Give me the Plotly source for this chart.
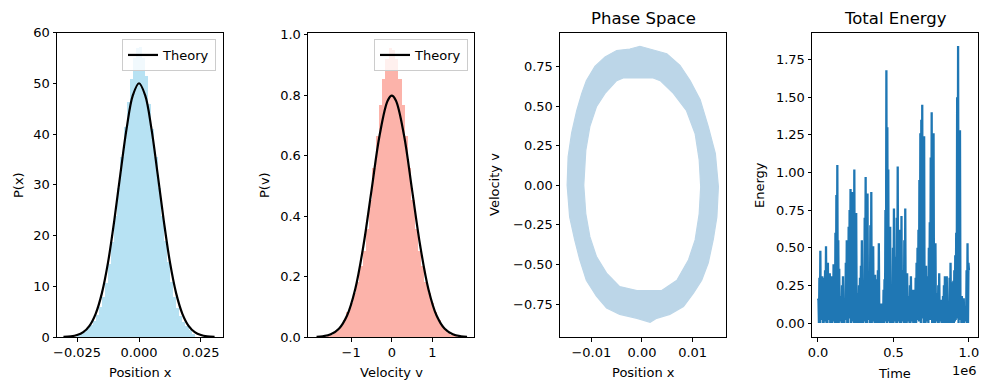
import numpy as np
import plotly.graph_objects as go

# ---------------- data ----------------
# Panel 1: position histogram (bin centres / densities) + theory curve
pos_bin_width = 0.00125
pos_centers = [-0.024375 + 0.00125 * k for k in range(38)]
pos_density = [0.4, 0.6, 1.0, 1.6, 2.4, 3.2, 4.4, 6.0, 8.0, 10.8,
               14.5, 18.8, 24.0, 29.5, 35.5, 41.5, 46.5, 51.0, 55.0, 57.0,
               57.2, 55.0, 51.5, 46.0, 41.0, 35.5, 29.5, 24.0, 19.0, 14.8,
               11.0, 8.0, 5.8, 4.2, 3.0, 2.2, 1.5, 0.7]
pos_theory_x = [-0.0305, -0.0275, -0.025, -0.0225, -0.02, -0.0175, -0.015, -0.0125, -0.01,
                -0.0075, -0.005, -0.0025, 0.0, 0.0025, 0.005, 0.0075, 0.01, 0.0125,
                0.015, 0.0175, 0.02, 0.0225, 0.025, 0.0275, 0.0305]
pos_theory_y = [0.035, 0.136, 0.38, 0.96, 2.20, 4.57, 8.6, 14.7, 22.9,
                32.2, 41.1, 47.6, 50.0, 47.6, 41.1, 32.2, 22.9, 14.7,
                8.6, 4.57, 2.20, 0.96, 0.38, 0.136, 0.035]

# Panel 2: velocity histogram + theory curve
vel_bin_width = 0.08
vel_centers = [-1.64 + 0.08 * k for k in range(42)]
vel_density = [0.002, 0.005, 0.009, 0.015, 0.024, 0.038, 0.058, 0.085, 0.115, 0.148,
               0.185, 0.235, 0.285, 0.36, 0.455, 0.56, 0.665, 0.77, 0.855, 0.92,
               0.958, 0.952, 0.922, 0.855, 0.77, 0.665, 0.56, 0.455, 0.36, 0.285,
               0.235, 0.185, 0.148, 0.115, 0.085, 0.058, 0.038, 0.024, 0.015, 0.009,
               0.005, 0.002]
vel_theory_x = [-1.85, -1.7, -1.5, -1.3, -1.1, -0.9, -0.7, -0.5, -0.3, -0.1, 0.0,
                0.1, 0.3, 0.5, 0.7, 0.9, 1.1, 1.3, 1.5, 1.7, 1.85]
vel_theory_y = [0.0008, 0.0025, 0.0089, 0.0272, 0.071, 0.158, 0.300, 0.484, 0.667, 0.782, 0.798,
                0.782, 0.667, 0.484, 0.300, 0.158, 0.071, 0.0272, 0.0089, 0.0025, 0.0008]

# Panel 3: phase-space band (outer and inner envelope of the trajectory)
outer_x = [-0.01479, -0.0146, -0.0139, -0.0129, -0.0119, -0.0110, -0.0093, -0.0073, -0.0050,
           -0.0024, -0.0004, 0.0022, 0.0049, 0.0075, 0.0095, 0.0115, 0.0131, 0.0145, 0.0151,
           0.0148, 0.0141, 0.0131, 0.0118, 0.0102, 0.0082, 0.0055, 0.0029, 0.0016, -0.0010,
           -0.0044, -0.0070, -0.0090, -0.0110, -0.0123, -0.0133, -0.0143]
outer_v = [0.0, 0.18, 0.33, 0.47, 0.58, 0.66, 0.75, 0.81, 0.85,
           0.86, 0.877, 0.855, 0.83, 0.757, 0.66, 0.54, 0.37, 0.20, -0.01,
           -0.20, -0.34, -0.49, -0.60, -0.68, -0.765, -0.815, -0.84, -0.865, -0.84,
           -0.815, -0.775, -0.70, -0.60, -0.47, -0.345, -0.20]
inner_x = [-0.0115, -0.0111, -0.0103, -0.0090, -0.0073, -0.0050, -0.0037, 0.0022, 0.0036,
           0.0062, 0.0088, 0.0105, 0.0113, 0.0116, 0.0113, 0.0105, 0.0092, 0.0069, 0.0039,
           -0.0010, -0.0044, -0.0070, -0.0090, -0.0103, -0.0111]
inner_v = [0.0, 0.22, 0.37, 0.495, 0.58, 0.66, 0.677, 0.677, 0.66,
           0.58, 0.47, 0.325, 0.16, -0.01, -0.18, -0.345, -0.47, -0.60, -0.665,
           -0.665, -0.64, -0.555, -0.45, -0.325, -0.18]

# Panel 4: total energy time series (troughs / main peaks / secondary peaks)
energy_peaks = [0.16, 0.48, 0.31, 0.30, 0.51, 0.40, 0.33, 0.31, 0.39, 0.60,
                1.05, 0.36, 0.18, 0.31, 0.11, 0.55, 0.64, 0.89, 0.87, 1.02,
                0.73, 0.20, 0.30, 0.55, 0.22, 0.97, 0.86, 0.33, 0.87, 0.51,
                0.32, 0.29, 0.53, 0.13, 0.13, 0.29, 1.68, 1.02, 0.64, 0.20,
                0.76, 0.44, 1.04, 0.62, 0.71, 0.35, 0.76, 0.33, 0.18, 0.31,
                0.22, 0.22, 0.40, 0.62, 1.26, 1.45, 1.24, 0.38, 0.31, 0.67,
                1.40, 1.26, 0.53, 0.20, 0.33, 0.155, 0.18, 0.31, 0.31, 0.13,
                0.40, 0.27, 0.35, 0.60, 1.84, 1.28, 0.18, 0.165, 0.11, 0.53]
energy_peaks_b = [0.30, 0.25, 0.22, 0.35, 0.28, 0.30, 0.20, 0.28, 0.33, 0.85,
                  0.55, 0.15, 0.25, 0.09, 0.40, 0.50, 0.75, 0.60, 0.80, 0.55,
                  0.15, 0.25, 0.38, 0.18, 0.70, 0.60, 0.25, 0.65, 0.40, 0.25,
                  0.20, 0.35, 0.10, 0.10, 0.22, 0.75, 1.30, 0.55, 0.18, 0.50,
                  0.35, 0.70, 0.50, 0.45, 0.30, 0.55, 0.25, 0.15, 0.25, 0.18,
                  0.18, 0.30, 0.50, 0.95, 1.35, 1.10, 0.30, 0.25, 0.50, 1.10,
                  1.00, 0.40, 0.18, 0.25, 0.14, 0.15, 0.25, 0.22, 0.12, 0.30,
                  0.22, 0.28, 0.45, 1.50, 0.90, 0.15, 0.14, 0.10, 0.35, 0.40]
energy_troughs = [0.15, 0.0, 0.02, 0.0, 0.01, 0.0, 0.03, 0.0, 0.01, 0.0,
                  0.02, 0.0, 0.01, 0.0, 0.0, 0.02, 0.0, 0.05, 0.01, 0.0,
                  0.02, 0.0, 0.0, 0.03, 0.0, 0.01, 0.0, 0.04, 0.0, 0.02,
                  0.0, 0.01, 0.0, 0.0, 0.02, 0.0, 0.06, 0.01, 0.0, 0.02,
                  0.0, 0.03, 0.0, 0.01, 0.0, 0.02, 0.0, 0.0, 0.01, 0.0,
                  0.02, 0.0, 0.0, 0.04, 0.02, 0.05, 0.0, 0.0, 0.01, 0.03,
                  0.05, 0.0, 0.0, 0.02, 0.0, 0.01, 0.0, 0.0, 0.02, 0.0,
                  0.0, 0.01, 0.0, 0.02, 0.05, 0.08, 0.0, 0.0, 0.01, 0.0, 0.35]
energy_troughs_b = [0.0, 0.02, 0.0, 0.01, 0.0, 0.02, 0.0, 0.0, 0.01, 0.0,
                    0.0, 0.01, 0.0, 0.0, 0.02, 0.0, 0.03, 0.0, 0.01, 0.0,
                    0.0, 0.02, 0.0, 0.0, 0.01, 0.0, 0.02, 0.0, 0.0, 0.01,
                    0.0, 0.0, 0.02, 0.0, 0.0, 0.01, 0.0, 0.02, 0.0, 0.0,
                    0.01, 0.0, 0.02, 0.0, 0.01, 0.0, 0.0, 0.02, 0.0, 0.01,
                    0.0, 0.0, 0.02, 0.01, 0.0, 0.03, 0.0, 0.01, 0.0, 0.02,
                    0.0, 0.0, 0.01, 0.0, 0.02, 0.0, 0.01, 0.0, 0.0, 0.02,
                    0.0, 0.0, 0.01, 0.03, 0.0, 0.02, 0.0, 0.0, 0.01, 0.0]
energy_t_max = 1.0e6

# tick labels
p1_xticks = [-0.025, 0.0, 0.025]; p1_xtext = ["\u22120.025", "0.000", "0.025"]
p1_yticks = [0, 10, 20, 30, 40, 50, 60]; p1_ytext = ["0", "10", "20", "30", "40", "50", "60"]
p2_xticks = [-1, 0, 1]; p2_xtext = ["\u22121", "0", "1"]
p2_yticks = [0, 0.2, 0.4, 0.6, 0.8, 1.0]; p2_ytext = ["0.0", "0.2", "0.4", "0.6", "0.8", "1.0"]
p3_xticks = [-0.01, 0.0, 0.01]; p3_xtext = ["\u22120.01", "0.00", "0.01"]
p3_yticks = [-0.75, -0.5, -0.25, 0, 0.25, 0.5, 0.75]
p3_ytext = ["\u22120.75", "\u22120.50", "\u22120.25", "0.00", "0.25", "0.50", "0.75"]
p4_xticks = [0, 5e5, 1e6]; p4_xtext = ["0.0", "0.5", "1.0"]
p4_yticks = [0, 0.25, 0.5, 0.75, 1.0, 1.25, 1.5, 1.75]
p4_ytext = ["0.00", "0.25", "0.50", "0.75", "1.00", "1.25", "1.50", "1.75"]

# ---------------- figure ----------------
W, H = 990, 390
FONT = "DejaVu Sans"
fig = go.Figure()

fig.add_trace(go.Bar(x=pos_centers, y=pos_density, width=pos_bin_width,
                     marker=dict(color="rgba(135,206,235,0.6)", line=dict(width=0)),
                     showlegend=False, xaxis="x", yaxis="y"))
fig.add_trace(go.Scatter(x=pos_theory_x, y=pos_theory_y, mode="lines", name="Theory",
                         line=dict(color="black", width=2.2, shape="spline"),
                         xaxis="x", yaxis="y", legend="legend"))

fig.add_trace(go.Bar(x=vel_centers, y=vel_density, width=vel_bin_width,
                     marker=dict(color="rgba(250,128,114,0.6)", line=dict(width=0)),
                     showlegend=False, xaxis="x2", yaxis="y2"))
fig.add_trace(go.Scatter(x=vel_theory_x, y=vel_theory_y, mode="lines", name="Theory",
                         line=dict(color="black", width=2.2, shape="spline"),
                         xaxis="x2", yaxis="y2", legend="legend2"))

# phase band: outer loop (clockwise) then inner loop (counter-clockwise) -> hole
band_x = list(outer_x) + [outer_x[0], inner_x[0]] + list(inner_x[::-1]) + [inner_x[0], outer_x[0]]
band_v = list(outer_v) + [outer_v[0], inner_v[0]] + list(inner_v[::-1]) + [inner_v[0], outer_v[0]]
fig.add_trace(go.Scatter(x=band_x, y=band_v, mode="lines", fill="toself",
                         fillcolor="#bcd6e8", line=dict(color="#bcd6e8", width=1.2),
                         showlegend=False, xaxis="x3", yaxis="y3"))

energy = []
for i in range(len(energy_peaks)):
    energy.append(energy_troughs[i])
    energy.append(energy_peaks[i])
    energy.append(energy_troughs_b[i])
    energy.append(energy_peaks_b[i])
energy.append(energy_troughs[-1])
energy_t = np.linspace(0, energy_t_max, len(energy))
fig.add_trace(go.Scatter(x=energy_t, y=energy, mode="lines",
                         line=dict(color="#1f77b4", width=2.3),
                         showlegend=False, xaxis="x4", yaxis="y4"))

# axes
ytop, ybot = 1 - 32.5 / H, 1 - 337 / H
doms = [(57, 223), (308, 474), (560, 726), (812, 978)]
ranges_x = [[-0.0331, 0.0339], [-2.06, 2.02], [-0.0162, 0.0166], [-39700, 1.06e6]]
ranges_y = [[0, 60], [0, 1.007], [-0.958, 0.964], [-0.093, 1.93]]
xt = [(p1_xticks, p1_xtext), (p2_xticks, p2_xtext), (p3_xticks, p3_xtext), (p4_xticks, p4_xtext)]
yt = [(p1_yticks, p1_ytext), (p2_yticks, p2_ytext), (p3_yticks, p3_ytext), (p4_yticks, p4_ytext)]

axis_common = dict(showline=True, mirror=True, linecolor="black", linewidth=1,
                   ticks="outside", ticklen=3.5, tickwidth=1, tickcolor="black",
                   showgrid=False, zeroline=False, tickmode="array", automargin=False,
                   tickfont=dict(family=FONT, size=13, color="black"))
layout = dict(width=W, height=H, autosize=False,
              margin=dict(l=0, r=0, t=0, b=0, pad=0),
              paper_bgcolor="white", plot_bgcolor="white",
              font=dict(family=FONT, size=13, color="black"),
              bargap=0, barmode="overlay")
for i in range(4):
    n = "" if i == 0 else str(i + 1)
    layout["xaxis" + n] = dict(domain=[doms[i][0] / W, doms[i][1] / W], range=ranges_x[i],
                               anchor="y" + n, tickvals=xt[i][0], ticktext=xt[i][1], **axis_common)
    layout["yaxis" + n] = dict(domain=[ybot, ytop], range=ranges_y[i],
                               anchor="x" + n, tickvals=yt[i][0], ticktext=yt[i][1], **axis_common)

legend_common = dict(bgcolor="rgba(255,255,255,0.8)", bordercolor="#cccccc", borderwidth=1,
                     font=dict(family=FONT, size=13, color="black"),
                     xanchor="right", yanchor="top", y=1 - 39 / H, itemwidth=30)
layout["legend"] = dict(x=216 / W, **legend_common)
layout["legend2"] = dict(x=468 / W, **legend_common)
fig.update_layout(**layout)

def ann(text, x, y, size=13, angle=0):
    fig.add_annotation(text=text, x=x / W, y=1 - y / H, xref="paper", yref="paper",
                       showarrow=False, textangle=angle, xanchor="center", yanchor="middle",
                       font=dict(family=FONT, size=size, color="black"))

ann("Position x", 140, 372)
ann("P(x)", 18, 185, angle=-90)
ann("Velocity v", 391, 372)
ann("P(v)", 264, 185, angle=-90)
ann("Position x", 643, 372)
ann("Velocity v", 494, 185, angle=-90)
ann("Time", 894, 373)
ann("Energy", 759, 185, angle=-90)
ann("1e6", 964, 370)
ann("Phase Space", 643, 18, size=16.5)
ann("Total Energy", 895, 18, size=16.5)

css_js = ("var s=document.createElement('style');"
          "s.textContent='html,body{margin:0;padding:0;overflow:hidden;width:990px;height:390px;}"
          ".plotly-graph-div{position:absolute;left:0;top:0;}';"
          "document.head.appendChild(s);")
fig.write_html("out.html", config={"displayModeBar": False, "responsive": False},
               post_script=css_js)
